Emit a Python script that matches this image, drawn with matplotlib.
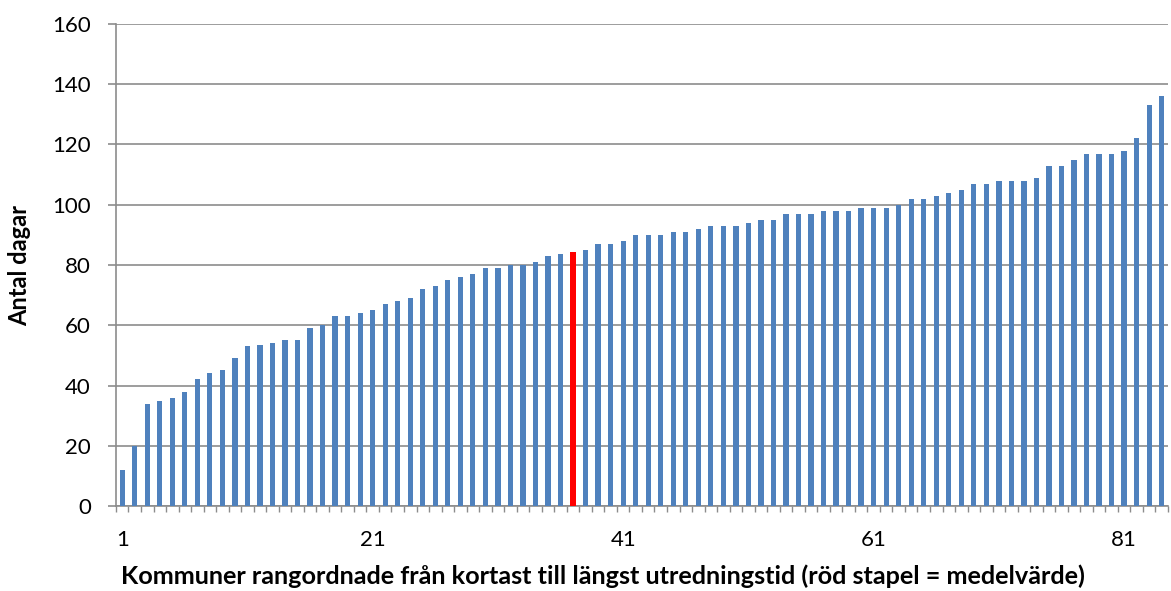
import matplotlib.pyplot as plt
import numpy as np

# Antal dagar per kommun, sorterat (stapel 37 = medelvärde)
days = [12, 20, 34, 35, 36, 38, 42, 44, 45, 49,
        53, 53.4, 54, 55, 55, 59, 60, 63, 63, 64,
        65, 67, 68, 69, 72, 73, 75, 76, 77, 79,
        79, 80, 80, 81, 83, 83.5, 84.4, 85, 87, 87,
        88, 90, 90, 90, 91, 91, 92, 93, 93, 93,
        94, 95, 95, 97, 97, 97, 98, 98, 98, 99,
        99, 99, 100, 102, 102, 103, 104, 105, 107, 107,
        108, 108, 108, 109, 113, 113, 115, 117, 117, 117,
        118, 122, 133, 136]
mean_rank = 37
tick_labels = [1, 21, 41, 61, 81]
y_ticks = range(0, 161, 20)

ranks = np.arange(1, len(days) + 1)
colors = ['#FF0000' if r == mean_rank else '#4F81BD' for r in ranks]

plt.rcParams['font.family'] = ['Lato', 'DejaVu Sans']
fig = plt.figure(figsize=(11.71, 5.91), dpi=100)
ax = fig.add_axes([0.099, 0.1438, 0.8984, 0.8156])

ax.bar(ranks, days, width=0.42, color=colors, zorder=3)

ax.set_xlim(0.5, len(days) + 0.5)
ax.set_ylim(0, 160)
ax.set_yticks(list(y_ticks))
ax.yaxis.grid(True, color='#8c8c8c', linewidth=1.2, zorder=0)

ax.set_xticks(tick_labels)
ax.set_xticklabels([str(t) for t in tick_labels])
ax.set_xticks(np.arange(0.5, len(days) + 1, 1), minor=True)
ax.tick_params(axis='x', which='major', length=0, pad=17, labelsize=16)
ax.tick_params(axis='x', which='minor', length=4, width=1, color='#8c8c8c')
ax.tick_params(axis='y', length=6, width=1.2, color='#8c8c8c', pad=12, labelsize=16)

for side in ['top', 'right']:
    ax.spines[side].set_visible(False)
for side in ['left', 'bottom']:
    ax.spines[side].set_color('#8c8c8c')
    ax.spines[side].set_linewidth(1.2)

ax.set_ylabel('Antal dagar', fontsize=17, fontweight='bold')
ax.yaxis.set_label_coords(-0.081, 0.5)
fig.text(0.515, 0.025,
         'Kommuner rangordnade från kortast till längst utredningstid (röd stapel = medelvärde)',
         fontsize=18.2, fontweight='bold', ha='center', va='center')

fig.savefig('out.png', dpi=100)
